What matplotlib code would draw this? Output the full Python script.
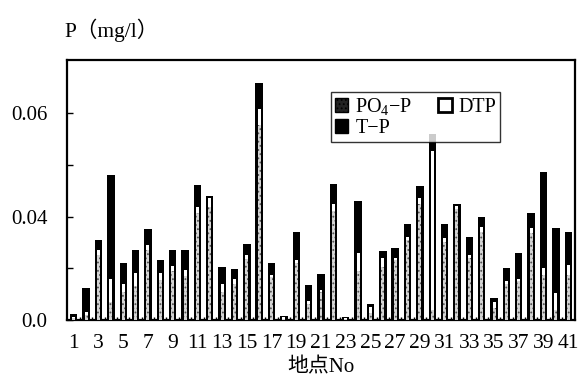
import matplotlib
matplotlib.use("Agg")
import matplotlib.pyplot as plt
from matplotlib.patches import Patch
import numpy as np

# Phosphorus concentrations at each sampling station (mg/l)
stations = list(range(1, 42))
tp = [0.0025, 0.0125, 0.031, 0.056, 0.022, 0.027, 0.035, 0.023, 0.027, 0.027,
      0.052, 0.048, 0.0205, 0.0197, 0.0293, 0.0917, 0.022, 0.0014, 0.034, 0.0135,
      0.0178, 0.0526, 0.0012, 0.0458, 0.0062, 0.0265, 0.028, 0.037, 0.0516, 0.072,
      0.037, 0.045, 0.032, 0.040, 0.0086, 0.020, 0.026, 0.0413, 0.0573, 0.0356, 0.0341]
dtp = [0.0012, 0.003, 0.027, 0.016, 0.014, 0.018, 0.029, 0.018, 0.021, 0.0195,
       0.0435, 0.047, 0.014, 0.016, 0.025, 0.0817, 0.0172, 0.001, 0.023, 0.0075,
       0.0116, 0.045, 0.0008, 0.026, 0.005, 0.024, 0.024, 0.032, 0.047, 0.0655,
       0.0318, 0.044, 0.025, 0.036, 0.0071, 0.015, 0.016, 0.0356, 0.020, 0.0104, 0.0213]
po4 = [0.0008, 0.002, 0.025, 0.007, 0.011, 0.013, 0.027, 0.0155, 0.019, 0.017,
       0.0415, 0.0435, 0.011, 0.014, 0.0235, 0.0752, 0.0165, 0.0005, 0.022, 0.006,
       0.011, 0.042, 0.0004, 0.019, 0.0026, 0.0205, 0.023, 0.031, 0.045, 0.004,
       0.030, 0.043, 0.024, 0.034, 0.0046, 0.014, 0.015, 0.0337, 0.0174, 0.0039, 0.0174]

xtick_vals = list(range(1, 42, 2))
ytick_vals = [0.0, 0.02, 0.04, 0.06, 0.08]
ytick_text = ["0.0", "", "0.04", "", "0.06"]

fonts = ["Liberation Serif", "Noto Sans CJK JP"]
plt.rcParams["font.family"] = fonts
plt.rcParams["mathtext.fontset"] = "custom"
plt.rcParams["mathtext.rm"] = "Liberation Serif"
plt.rcParams["mathtext.default"] = "rm"
plt.rcParams["hatch.linewidth"] = 0.8

fig = plt.figure(figsize=(5.83, 3.88), dpi=100)
ax = fig.add_axes([0.1149, 0.1753, 0.8714, 0.6701])

x = np.array(stations)
ax.bar(x, tp, width=0.6, color="black", linewidth=0, zorder=2)
ax.bar(x, dtp, width=0.24, color="white", linewidth=0, zorder=3)
ax.bar(x, po4, width=0.24, facecolor="#d4d4d4", edgecolor="#555555",
       hatch="....", linewidth=0, zorder=4)

ax.set_xlim(0.45, 41.55)
ax.set_ylim(0, 0.1005)

ax.set_xticks(xtick_vals)
ax.set_xticklabels([str(v) for v in xtick_vals])
ax.set_xticks(np.arange(1.5, 41, 1), minor=True)
ax.tick_params(axis="x", which="major", length=0, pad=10, labelsize=15.5)
ax.tick_params(axis="x", which="minor", direction="in", length=2.5, width=1)

ax.set_yticks(ytick_vals)
ax.set_yticklabels(ytick_text)
ax.tick_params(axis="y", which="major", direction="in", length=4, width=1,
               pad=14, labelsize=15)

for s in ax.spines.values():
    s.set_linewidth(1.6)

handles = [
    Patch(facecolor="#222222", edgecolor="black", hatch="....", linewidth=1),
    Patch(facecolor="black", edgecolor="black"),
    Patch(facecolor="white", edgecolor="black", linewidth=2),
]
leg = ax.legend(handles, ["PO$_4$\u2212P", "T\u2212P", "DTP"], ncol=2,
                loc="upper left", bbox_to_anchor=(0.52, 0.71, 0.333, 0.167),
                mode="expand",
                frameon=True, fancybox=False, shadow=False,
                fontsize=14.5, handlelength=0.65, handleheight=0.65,
                handletextpad=0.35, columnspacing=0.1, labelspacing=0.1,
                borderpad=0.2, borderaxespad=0)
leg.get_frame().set_edgecolor("black")
leg.get_frame().set_linewidth(1.0)
leg.set_zorder(10)

fig.text(0.111, 0.922, "P（mg/l）", fontsize=15.5, ha="left", va="center")
fig.text(0.55, 0.052, "地点No", fontsize=15, ha="center", va="center")

fig.savefig("out.png", dpi=100)
